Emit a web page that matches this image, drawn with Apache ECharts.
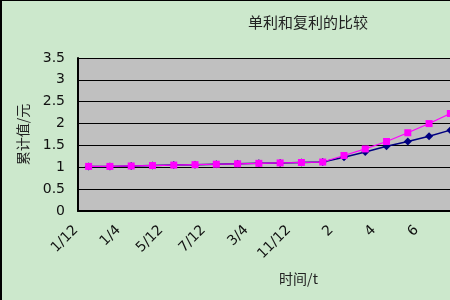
<!DOCTYPE html>
<html><head><meta charset="utf-8">
<script src="https://cdn.jsdelivr.net/npm/echarts@6/dist/echarts.min.js"></script>
<style>
html,body{margin:0;padding:0;width:450px;height:300px;overflow:hidden;background:#cce8cc;}
#wrap{position:absolute;left:0;top:0;width:450px;height:300px;overflow:hidden;box-sizing:border-box;border-left:2px solid #000;border-top:1px solid #000;}
#c{position:absolute;left:-2px;top:-1px;width:462px;height:300px;}
</style></head>
<body><div id="wrap"><div id="c"></div></div>
<script>
const categories = ['1/12','1/6','1/4','1/3','5/12','1/2','7/12','2/3','3/4','5/6','11/12','1','2','3','4','5','6','7'];
const simpleValues = [1.02,1.02,1.03,1.04,1.05,1.06,1.07,1.08,1.09,1.10,1.11,1.12,1.23,1.35,1.48,1.59,1.71,1.85];
const compoundValues = [1.02,1.02,1.03,1.04,1.05,1.06,1.07,1.08,1.09,1.10,1.11,1.12,1.27,1.42,1.59,1.79,2.00,2.23];
const titleText = '单利和复利的比较';
const yName = '累计值/元';
const xName = '时间/t';

const chart = echarts.init(document.getElementById('c'));
chart.setOption({
  backgroundColor: 'transparent',
  animation: false,
  title: {text: titleText, left: 303, top: 10, textAlign: 'center',
    textStyle: {fontFamily: 'Noto Sans CJK SC', fontSize: 15, fontWeight: 'normal', color: '#222'}},
  graphic: [{type: 'text', left: 279, top: 272,
    style: {text: xName, fontFamily: 'Noto Sans CJK SC', fontSize: 14, fill: '#222'}}],
  grid: {left: 78, top: 58, width: 383, height: 153, show: true, backgroundColor: '#c0c0c0', borderWidth: 0},
  xAxis: {type: 'category', data: categories, boundaryGap: true,
    axisLine: {lineStyle: {color: '#000', width: 2}},
    axisTick: {inside: true, length: 4, lineStyle: {color: '#000'}},
    axisLabel: {interval: 1, rotate: 45, fontSize: 14, color: '#111', fontFamily: 'DejaVu Sans',
      margin: 14, verticalAlign: 'bottom', padding: [0, 11, 0, 0]}},
  yAxis: {type: 'value', min: 0, max: 3.5, interval: 0.5,
    name: yName, nameLocation: 'middle', nameGap: 48,
    nameTextStyle: {fontFamily: 'Noto Sans CJK SC', fontSize: 14, color: '#222'},
    axisLine: {show: true, lineStyle: {color: '#000', width: 2}},
    axisTick: {show: false},
    axisLabel: {fontSize: 14, color: '#111', fontFamily: 'DejaVu Sans', margin: 13},
    splitLine: {lineStyle: {color: '#000', width: 1}}},
  series: [
    {name: '单利', type: 'line', data: simpleValues, symbol: 'diamond', symbolSize: 8,
      itemStyle: {color: '#000080'}, lineStyle: {color: '#000080', width: 1.5}, z: 2},
    {name: '复利', type: 'line', data: compoundValues, symbol: 'rect', symbolSize: 7,
      itemStyle: {color: '#ff00ff'}, lineStyle: {color: '#ff00ff', width: 1.2}, z: 3}
  ]
});
</script></body></html>
